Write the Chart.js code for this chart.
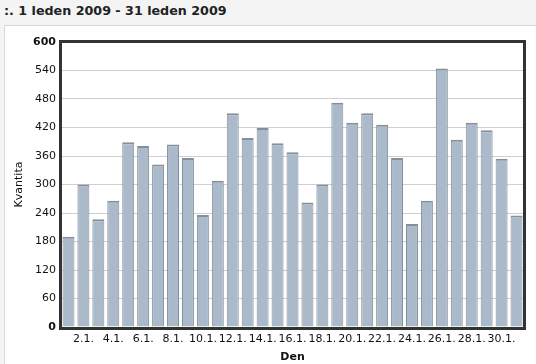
<!DOCTYPE html>
<html>
<head>
<meta charset="utf-8">
<script src="https://cdn.jsdelivr.net/npm/chart.js@4"></script>
<style>
  html, body { margin: 0; padding: 0; }
  body { width: 536px; height: 364px; background: #f4f4f4; position: relative; overflow: hidden; }
  #title { position: absolute; left: 4px; top: 3px; font: bold 12.7px "DejaVu Sans", Verdana, sans-serif; color: #222; }
  #panel { position: absolute; left: 4px; top: 25px; width: 540px; height: 350px; background: #fff; border: 1px solid #d8d8d8; }
  #chart { position: absolute; left: 0; top: 0; }
</style>
</head>
<body>
<div id="title">:. 1 leden 2009 - 31 leden 2009</div>
<div id="panel"></div>
<canvas id="chart" width="536" height="364"></canvas>
<script>
// Data (daily quantities, January 2009)
const days = [];
for (let d = 1; d <= 31; d++) days.push(d + '.1.');
const quantities = [190, 300, 227, 266, 389, 381, 342, 384, 356, 236,
                    308, 450, 398, 419, 387, 368, 262, 300, 472, 430,
                    450, 426, 356, 217, 266, 544, 394, 430, 414, 354, 235];
const yTicks = [0, 60, 120, 180, 240, 300, 360, 420, 480, 540, 600];

const font = "'DejaVu Sans', Verdana, sans-serif";

// Frame around the plot area
const frame = {
  id: 'frame',
  afterDraw(chart) {
    const a = chart.chartArea;
    const ctx = chart.ctx;
    ctx.save();
    ctx.strokeStyle = '#333';
    ctx.lineWidth = 3;
    ctx.strokeRect(a.left - 0.5, a.top - 0.5, a.right - a.left + 1, a.bottom - a.top + 2);
    ctx.restore();
  }
};

new Chart(document.getElementById('chart'), {
  type: 'bar',
  data: {
    labels: days,
    datasets: [{
      data: quantities,
      backgroundColor: '#abbacb',
      borderColor: '#858f9a',
      borderWidth: { top: 2, left: 1, right: 1, bottom: 0 },
      barPercentage: 0.8,
      categoryPercentage: 1
    }]
  },
  options: {
    responsive: false,
    animation: false,
    layout: { padding: { top: 42, right: 12, left: 0, bottom: 0 } },
    plugins: { legend: { display: false }, tooltip: { enabled: false } },
    scales: {
      x: {
        grid: { display: false, drawTicks: false },
        border: { display: false },
        ticks: {
          autoSkip: false,
          maxRotation: 0,
          padding: 6,
          color: '#111',
          font: { family: font, size: 11 },
          callback: (v, i) => (i % 2 === 1 ? days[i] : '')
        },
        title: { display: true, text: 'Den', color: '#111', font: { family: font, size: 11, weight: 'bold' }, padding: { top: 2, bottom: 0 } },
        afterFit: s => { s.height = 37; }
      },
      y: {
        min: 0,
        max: 600,
        afterBuildTicks: s => { s.ticks = yTicks.map(v => ({ value: v })); },
        grid: { color: '#cfcfcf', lineWidth: 1, drawTicks: false },
        border: { display: false },
        ticks: {
          padding: 5,
          color: '#111',
          font: ctx => ({ family: font, size: 11, weight: (ctx.tick && (ctx.tick.value === 600 || ctx.tick.value === 0)) ? 'bold' : 'normal' })
        },
        title: { display: true, text: 'Kvantita', color: '#111', font: { family: font, size: 11 }, padding: { top: 13, bottom: 0 } },
        afterFit: s => { s.width = 61; }
      }
    }
  },
  plugins: [frame]
});
</script>
</body>
</html>
